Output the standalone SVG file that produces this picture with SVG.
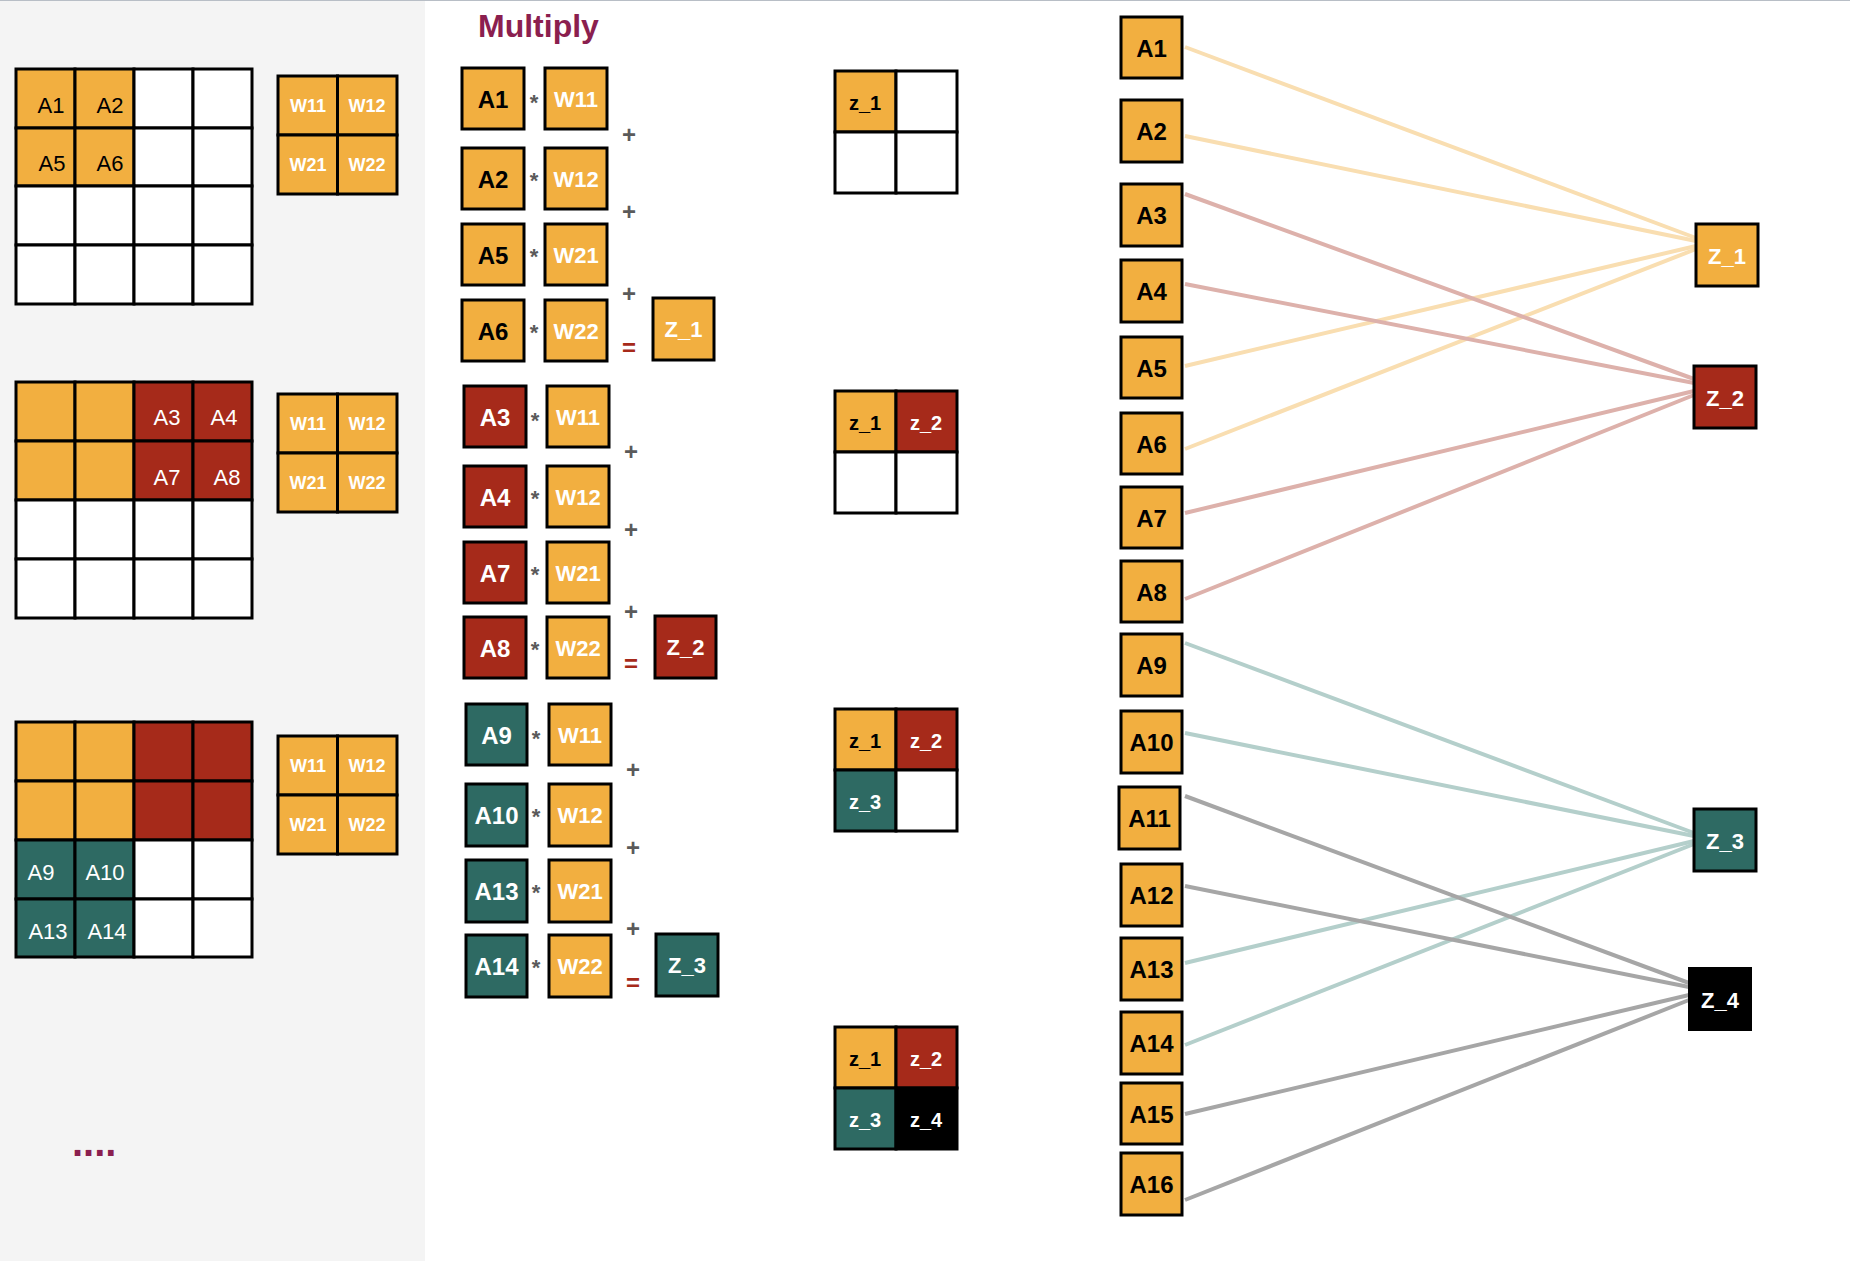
<svg xmlns="http://www.w3.org/2000/svg" width="1850" height="1262" viewBox="0 0 1850 1262">
<style>
text{font-family:"Liberation Sans",Arial,Helvetica,sans-serif}
.o{fill:#F2AF40}.r{fill:#A62A1A}.t{fill:#2E6A63}.w{fill:#FFFFFF}.k{fill:#000000}
.cell{stroke:#000;stroke-width:3}
.box{stroke:#000;stroke-width:3}
.gl{font-size:22px;text-anchor:middle}
.wl{font-size:18px;font-weight:bold;fill:#fff;text-anchor:middle}
.bl{font-size:24px;font-weight:bold;text-anchor:middle}
.ml{font-size:22px;font-weight:bold;fill:#fff;text-anchor:middle}
.zl{font-size:20px;font-weight:bold;text-anchor:middle}
.op{font-size:22px;font-weight:bold;fill:#5a5a5a;text-anchor:middle}
.pl{font-size:24px;font-weight:bold;fill:#5a5a5a;text-anchor:middle}
.eq{font-size:24px;font-weight:bold;fill:#A62A1A;text-anchor:middle}
.lo{stroke:#F9DEB1;stroke-width:4}
.lr{stroke:#DDB1AB;stroke-width:4}
.lt{stroke:#B4CFCB;stroke-width:4}
.lg{stroke:#A6A6A6;stroke-width:4}
</style>
<rect x="0" y="0" width="1850" height="1262" fill="#FFFFFF"/>
<rect x="0" y="1" width="425" height="1260" fill="#F4F4F4"/>
<line x1="0" y1="0.5" x2="1850" y2="0.5" stroke="#B8BEC6" stroke-width="1"/>

<!-- Left input grids -->
<g id="grid1">
<rect class="cell o" x="16" y="69" width="59" height="59"/><rect class="cell o" x="75" y="69" width="59" height="59"/><rect class="cell w" x="134" y="69" width="59" height="59"/><rect class="cell w" x="193" y="69" width="59" height="59"/>
<rect class="cell o" x="16" y="128" width="59" height="58"/><rect class="cell o" x="75" y="128" width="59" height="58"/><rect class="cell w" x="134" y="128" width="59" height="58"/><rect class="cell w" x="193" y="128" width="59" height="58"/>
<rect class="cell w" x="16" y="186" width="59" height="59"/><rect class="cell w" x="75" y="186" width="59" height="59"/><rect class="cell w" x="134" y="186" width="59" height="59"/><rect class="cell w" x="193" y="186" width="59" height="59"/>
<rect class="cell w" x="16" y="245" width="59" height="59"/><rect class="cell w" x="75" y="245" width="59" height="59"/><rect class="cell w" x="134" y="245" width="59" height="59"/><rect class="cell w" x="193" y="245" width="59" height="59"/>
<text class="gl" x="51" y="113">A1</text><text class="gl" x="110" y="113">A2</text>
<text class="gl" x="52" y="171">A5</text><text class="gl" x="110" y="171">A6</text>
</g>
<g id="wgrid1">
<rect class="cell o" x="278" y="76" width="59.5" height="59"/><rect class="cell o" x="337.5" y="76" width="59.5" height="59"/>
<rect class="cell o" x="278" y="135" width="59.5" height="59"/><rect class="cell o" x="337.5" y="135" width="59.5" height="59"/>
<text class="wl" x="308" y="112">W11</text><text class="wl" x="367" y="112">W12</text>
<text class="wl" x="308" y="171">W21</text><text class="wl" x="367" y="171">W22</text>
</g>

<g id="grid2">
<rect class="cell o" x="16" y="382" width="59" height="59"/><rect class="cell o" x="75" y="382" width="59" height="59"/><rect class="cell r" x="134" y="382" width="59" height="59"/><rect class="cell r" x="193" y="382" width="59" height="59"/>
<rect class="cell o" x="16" y="441" width="59" height="59"/><rect class="cell o" x="75" y="441" width="59" height="59"/><rect class="cell r" x="134" y="441" width="59" height="59"/><rect class="cell r" x="193" y="441" width="59" height="59"/>
<rect class="cell w" x="16" y="500" width="59" height="59"/><rect class="cell w" x="75" y="500" width="59" height="59"/><rect class="cell w" x="134" y="500" width="59" height="59"/><rect class="cell w" x="193" y="500" width="59" height="59"/>
<rect class="cell w" x="16" y="559" width="59" height="59"/><rect class="cell w" x="75" y="559" width="59" height="59"/><rect class="cell w" x="134" y="559" width="59" height="59"/><rect class="cell w" x="193" y="559" width="59" height="59"/>
<text class="gl" x="167" y="425" fill="#fff">A3</text><text class="gl" x="224" y="425" fill="#fff">A4</text>
<text class="gl" x="167" y="485" fill="#fff">A7</text><text class="gl" x="227" y="485" fill="#fff">A8</text>
</g>
<g id="wgrid2">
<rect class="cell o" x="278" y="394" width="59.5" height="59"/><rect class="cell o" x="337.5" y="394" width="59.5" height="59"/>
<rect class="cell o" x="278" y="453" width="59.5" height="59"/><rect class="cell o" x="337.5" y="453" width="59.5" height="59"/>
<text class="wl" x="308" y="430">W11</text><text class="wl" x="367" y="430">W12</text>
<text class="wl" x="308" y="489">W21</text><text class="wl" x="367" y="489">W22</text>
</g>

<g id="grid3">
<rect class="cell o" x="16" y="722" width="59" height="59"/><rect class="cell o" x="75" y="722" width="59" height="59"/><rect class="cell r" x="134" y="722" width="59" height="59"/><rect class="cell r" x="193" y="722" width="59" height="59"/>
<rect class="cell o" x="16" y="781" width="59" height="59"/><rect class="cell o" x="75" y="781" width="59" height="59"/><rect class="cell r" x="134" y="781" width="59" height="59"/><rect class="cell r" x="193" y="781" width="59" height="59"/>
<rect class="cell t" x="16" y="840" width="59" height="59"/><rect class="cell t" x="75" y="840" width="59" height="59"/><rect class="cell w" x="134" y="840" width="59" height="59"/><rect class="cell w" x="193" y="840" width="59" height="59"/>
<rect class="cell t" x="16" y="899" width="59" height="58"/><rect class="cell t" x="75" y="899" width="59" height="58"/><rect class="cell w" x="134" y="899" width="59" height="58"/><rect class="cell w" x="193" y="899" width="59" height="58"/>
<text class="gl" x="41" y="880" fill="#fff">A9</text><text class="gl" x="105" y="880" fill="#fff">A10</text>
<text class="gl" x="48" y="939" fill="#fff">A13</text><text class="gl" x="107" y="939" fill="#fff">A14</text>
</g>
<g id="wgrid3">
<rect class="cell o" x="278" y="736" width="59.5" height="59"/><rect class="cell o" x="337.5" y="736" width="59.5" height="59"/>
<rect class="cell o" x="278" y="795" width="59.5" height="59"/><rect class="cell o" x="337.5" y="795" width="59.5" height="59"/>
<text class="wl" x="308" y="772">W11</text><text class="wl" x="367" y="772">W12</text>
<text class="wl" x="308" y="831">W21</text><text class="wl" x="367" y="831">W22</text>
</g>
<text x="72" y="1156" font-size="40" font-weight="bold" fill="#8B1F4F">....</text>

<!-- Multiply column -->
<text x="478" y="37" font-size="32" font-weight="bold" fill="#8B1F4F">Multiply</text>

<g id="mult1">
<rect class="box o" x="462" y="68" width="62" height="61"/><text class="bl" x="493" y="108">A1</text>
<text class="op" x="534" y="110">*</text>
<rect class="box o" x="545" y="68" width="62" height="61"/><text class="ml" x="576" y="107">W11</text>
<text class="pl" x="629" y="143">+</text>
<rect class="box o" x="462" y="148" width="62" height="61"/><text class="bl" x="493" y="188">A2</text>
<text class="op" x="534" y="188">*</text>
<rect class="box o" x="545" y="148" width="62" height="61"/><text class="ml" x="576" y="187">W12</text>
<text class="pl" x="629" y="220">+</text>
<rect class="box o" x="462" y="224" width="62" height="61"/><text class="bl" x="493" y="264">A5</text>
<text class="op" x="534" y="264">*</text>
<rect class="box o" x="545" y="224" width="62" height="61"/><text class="ml" x="576" y="263">W21</text>
<text class="pl" x="629" y="302">+</text>
<rect class="box o" x="462" y="300" width="62" height="61"/><text class="bl" x="493" y="340">A6</text>
<text class="op" x="534" y="340">*</text>
<rect class="box o" x="545" y="300" width="62" height="61"/><text class="ml" x="576" y="339">W22</text>
<text class="eq" x="629" y="356">=</text>
<rect class="box o" x="653" y="298" width="61" height="62"/><text class="ml" x="683.5" y="337">Z_1</text>
</g>

<g id="mult2">
<rect class="box r" x="464" y="386" width="62" height="61"/><text class="bl" x="495" y="426" fill="#fff">A3</text>
<text class="op" x="535" y="428">*</text>
<rect class="box o" x="547" y="386" width="62" height="61"/><text class="ml" x="578" y="425">W11</text>
<text class="pl" x="631" y="460">+</text>
<rect class="box r" x="464" y="466" width="62" height="61"/><text class="bl" x="495" y="506" fill="#fff">A4</text>
<text class="op" x="535" y="506">*</text>
<rect class="box o" x="547" y="466" width="62" height="61"/><text class="ml" x="578" y="505">W12</text>
<text class="pl" x="631" y="538">+</text>
<rect class="box r" x="464" y="542" width="62" height="61"/><text class="bl" x="495" y="582" fill="#fff">A7</text>
<text class="op" x="535" y="582">*</text>
<rect class="box o" x="547" y="542" width="62" height="61"/><text class="ml" x="578" y="581">W21</text>
<text class="pl" x="631" y="620">+</text>
<rect class="box r" x="464" y="617" width="62" height="61"/><text class="bl" x="495" y="657" fill="#fff">A8</text>
<text class="op" x="535" y="657">*</text>
<rect class="box o" x="547" y="617" width="62" height="61"/><text class="ml" x="578" y="656">W22</text>
<text class="eq" x="631" y="672">=</text>
<rect class="box r" x="655" y="616" width="61" height="62"/><text class="ml" x="685.5" y="655">Z_2</text>
</g>

<g id="mult3">
<rect class="box t" x="466" y="704" width="61" height="61"/><text class="bl" x="496.5" y="744" fill="#fff">A9</text>
<text class="op" x="536" y="746">*</text>
<rect class="box o" x="549" y="704" width="62" height="61"/><text class="ml" x="580" y="743">W11</text>
<text class="pl" x="633" y="778">+</text>
<rect class="box t" x="466" y="784" width="61" height="62"/><text class="bl" x="496.5" y="824" fill="#fff">A10</text>
<text class="op" x="536" y="824">*</text>
<rect class="box o" x="549" y="784" width="62" height="62"/><text class="ml" x="580" y="823">W12</text>
<text class="pl" x="633" y="856">+</text>
<rect class="box t" x="466" y="860" width="61" height="62"/><text class="bl" x="496.5" y="900" fill="#fff">A13</text>
<text class="op" x="536" y="900">*</text>
<rect class="box o" x="549" y="860" width="62" height="62"/><text class="ml" x="580" y="899">W21</text>
<text class="pl" x="633" y="937">+</text>
<rect class="box t" x="466" y="935" width="61" height="62"/><text class="bl" x="496.5" y="975" fill="#fff">A14</text>
<text class="op" x="536" y="975">*</text>
<rect class="box o" x="549" y="935" width="62" height="62"/><text class="ml" x="580" y="974">W22</text>
<text class="eq" x="633" y="991">=</text>
<rect class="box t" x="656" y="934" width="62" height="62"/><text class="ml" x="687" y="973">Z_3</text>
</g>

<!-- Result grids -->
<g id="result1">
<rect class="cell o" x="835" y="71" width="61" height="61"/><rect class="cell w" x="896" y="71" width="61" height="61"/>
<rect class="cell w" x="835" y="132" width="61" height="61"/><rect class="cell w" x="896" y="132" width="61" height="61"/>
<text class="zl" x="865" y="110" fill="#000">z_1</text>
</g>
<g id="result2">
<rect class="cell o" x="835" y="391" width="61" height="61"/><rect class="cell r" x="896" y="391" width="61" height="61"/>
<rect class="cell w" x="835" y="452" width="61" height="61"/><rect class="cell w" x="896" y="452" width="61" height="61"/>
<text class="zl" x="865" y="430" fill="#000">z_1</text><text class="zl" x="926" y="430" fill="#fff">z_2</text>
</g>
<g id="result3">
<rect class="cell o" x="835" y="709" width="61" height="61"/><rect class="cell r" x="896" y="709" width="61" height="61"/>
<rect class="cell t" x="835" y="770" width="61" height="61"/><rect class="cell w" x="896" y="770" width="61" height="61"/>
<text class="zl" x="865" y="748" fill="#000">z_1</text><text class="zl" x="926" y="748" fill="#fff">z_2</text>
<text class="zl" x="865" y="809" fill="#fff">z_3</text>
</g>
<g id="result4">
<rect class="cell o" x="835" y="1027" width="61" height="61"/><rect class="cell r" x="896" y="1027" width="61" height="61"/>
<rect class="cell t" x="835" y="1088" width="61" height="61"/><rect class="cell k" x="896" y="1088" width="61" height="61"/>
<text class="zl" x="865" y="1066" fill="#000">z_1</text><text class="zl" x="926" y="1066" fill="#fff">z_2</text>
<text class="zl" x="865" y="1127" fill="#fff">z_3</text><text class="zl" x="926" y="1127" fill="#fff">z_4</text>
</g>

<!-- Connectors -->
<g id="connectors" fill="none">
<line class="lo" x1="1185" y1="47" x2="1696" y2="238"/>
<line class="lo" x1="1185" y1="136" x2="1696" y2="241"/>
<line class="lo" x1="1185" y1="366" x2="1696" y2="246"/>
<line class="lo" x1="1185" y1="449" x2="1696" y2="249"/>
<line class="lr" x1="1185" y1="194" x2="1694" y2="379"/>
<line class="lr" x1="1185" y1="284" x2="1694" y2="383"/>
<line class="lr" x1="1185" y1="513" x2="1694" y2="391"/>
<line class="lr" x1="1185" y1="599" x2="1694" y2="395"/>
<line class="lt" x1="1185" y1="643" x2="1694" y2="833"/>
<line class="lt" x1="1185" y1="733" x2="1694" y2="836"/>
<line class="lt" x1="1185" y1="963" x2="1694" y2="841"/>
<line class="lt" x1="1185" y1="1045" x2="1694" y2="844"/>
<line class="lg" x1="1185" y1="796" x2="1689" y2="983"/>
<line class="lg" x1="1185" y1="886" x2="1689" y2="987"/>
<line class="lg" x1="1185" y1="1114" x2="1689" y2="995"/>
<line class="lg" x1="1185" y1="1200" x2="1689" y2="1000"/>
</g>

<!-- Right nodes -->
<g id="nA1"><rect class="box o" x="1121" y="17" width="61" height="61"/><text class="bl" x="1151.5" y="57">A1</text></g>
<g id="nA2"><rect class="box o" x="1121" y="100" width="61" height="62"/><text class="bl" x="1151.5" y="140">A2</text></g>
<g id="nA3"><rect class="box o" x="1121" y="184" width="61" height="62"/><text class="bl" x="1151.5" y="224">A3</text></g>
<g id="nA4"><rect class="box o" x="1121" y="260" width="61" height="62"/><text class="bl" x="1151.5" y="300">A4</text></g>
<g id="nA5"><rect class="box o" x="1121" y="337" width="61" height="61"/><text class="bl" x="1151.5" y="377">A5</text></g>
<g id="nA6"><rect class="box o" x="1121" y="413" width="61" height="61"/><text class="bl" x="1151.5" y="453">A6</text></g>
<g id="nA7"><rect class="box o" x="1121" y="487" width="61" height="61"/><text class="bl" x="1151.5" y="527">A7</text></g>
<g id="nA8"><rect class="box o" x="1121" y="561" width="61" height="61"/><text class="bl" x="1151.5" y="601">A8</text></g>
<g id="nA9"><rect class="box o" x="1121" y="634" width="61" height="62"/><text class="bl" x="1151.5" y="674">A9</text></g>
<g id="nA10"><rect class="box o" x="1121" y="711" width="61" height="62"/><text class="bl" x="1151.5" y="751">A10</text></g>
<g id="nA11"><rect class="box o" x="1119" y="787" width="61" height="62"/><text class="bl" x="1149.5" y="827">A11</text></g>
<g id="nA12"><rect class="box o" x="1121" y="864" width="61" height="62"/><text class="bl" x="1151.5" y="904">A12</text></g>
<g id="nA13"><rect class="box o" x="1121" y="938" width="61" height="62"/><text class="bl" x="1151.5" y="978">A13</text></g>
<g id="nA14"><rect class="box o" x="1121" y="1012" width="61" height="62"/><text class="bl" x="1151.5" y="1052">A14</text></g>
<g id="nA15"><rect class="box o" x="1121" y="1083" width="61" height="61"/><text class="bl" x="1151.5" y="1123">A15</text></g>
<g id="nA16"><rect class="box o" x="1121" y="1153" width="61" height="62"/><text class="bl" x="1151.5" y="1193">A16</text></g>

<g id="nZ1"><rect class="box o" x="1696" y="224" width="62" height="62"/><text class="ml" x="1727" y="264">Z_1</text></g>
<g id="nZ2"><rect class="box r" x="1694" y="366" width="62" height="62"/><text class="ml" x="1725" y="406">Z_2</text></g>
<g id="nZ3"><rect class="box t" x="1694" y="809" width="62" height="62"/><text class="ml" x="1725" y="849">Z_3</text></g>
<g id="nZ4"><rect class="k" x="1688" y="967" width="64" height="64"/><text class="ml" x="1720" y="1008">Z_4</text></g>
</svg>
